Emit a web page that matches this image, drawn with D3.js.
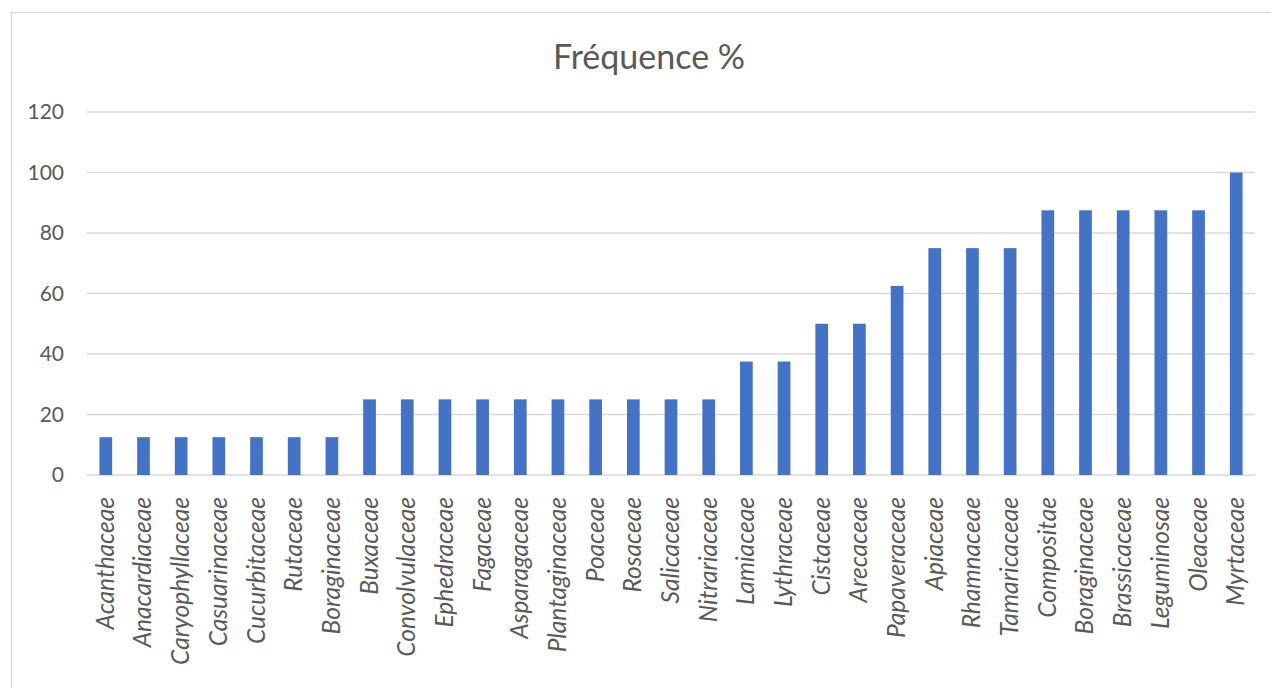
<!DOCTYPE html>
<html>
<head>
<meta charset="utf-8">
<script src="https://cdn.jsdelivr.net/npm/d3@7"></script>
<style>
  html, body { margin: 0; padding: 0; background: #fff; }
  svg { display: block; }
  text { font-family: Lato, "Open Sans", sans-serif; fill: #595959; }
</style>
</head>
<body>
<script>
// Plant families and their occurrence frequency (%)
const families = [
  "Acanthaceae", "Anacardiaceae", "Caryophyllaceae", "Casuarinaceae", "Cucurbitaceae",
  "Rutaceae", "Boraginaceae", "Buxaceae", "Convolvulaceae", "Ephedraceae",
  "Fagaceae", "Asparagaceae", "Plantaginaceae", "Poaceae", "Rosaceae",
  "Salicaceae", "Nitrariaceae", "Lamiaceae", "Lythraceae", "Cistaceae",
  "Arecaceae", "Papaveraceae", "Apiaceae", "Rhamnaceae", "Tamaricaceae",
  "Compositae", "Boraginaceae", "Brassicaceae", "Leguminosae", "Oleaceae",
  "Myrtaceae"
];
const frequency = [
  12.5, 12.5, 12.5, 12.5, 12.5,
  12.5, 12.5, 25, 25, 25,
  25, 25, 25, 25, 25,
  25, 25, 37.5, 37.5, 50,
  50, 62.5, 75, 75, 75,
  87.5, 87.5, 87.5, 87.5, 87.5,
  100
];
const yTicks = [0, 20, 40, 60, 80, 100, 120];
const title = "Fréquence %";

const W = 1271, H = 688;
const plot = { left: 87, right: 1255, top: 112, bottom: 475 };

const svg = d3.select("body").append("svg")
  .attr("width", W).attr("height", H);

// chart frame
svg.append("rect")
  .attr("x", 11.5).attr("y", 12.5)
  .attr("width", W + 10).attr("height", H + 10)
  .attr("fill", "#fff").attr("stroke", "#d9d9d9").attr("stroke-width", 1.5);

const idx = families.map((_, i) => i);
const x = d3.scaleBand().domain(idx).range([plot.left, plot.right]).paddingInner(0.663).paddingOuter(0.33);
const y = d3.scaleLinear().domain([0, 120]).range([plot.bottom, plot.top]);

// horizontal gridlines
svg.append("g").selectAll("line").data(yTicks).join("line")
  .attr("x1", plot.left).attr("x2", plot.right)
  .attr("y1", d => y(d)).attr("y2", d => y(d))
  .attr("stroke", "#d9d9d9").attr("stroke-width", 1.5);

// y axis labels
const yAxis = d3.axisLeft(y).tickValues(yTicks).tickSize(0).tickPadding(0);
svg.append("g")
  .attr("transform", `translate(${plot.left - 23},0)`)
  .call(yAxis)
  .call(g => g.select(".domain").remove())
  .selectAll("text")
  .attr("font-size", 21).attr("fill", "#595959")
  .style("font-family", "Lato, 'Open Sans', sans-serif");

// bars
svg.append("g").selectAll("rect").data(frequency).join("rect")
  .attr("x", (d, i) => x(i))
  .attr("width", x.bandwidth())
  .attr("y", d => y(d))
  .attr("height", d => y(0) - y(d))
  .attr("fill", "#4472C4");

// category labels, rotated and italic
const xAxis = d3.axisBottom(x).tickSize(0).tickFormat(i => families[i]);
svg.append("g")
  .attr("transform", `translate(0,${plot.bottom})`)
  .call(xAxis)
  .call(g => g.select(".domain").remove())
  .selectAll("text")
  .attr("font-size", 24.5)
  .attr("font-style", "italic")
  .attr("fill", "#595959")
  .style("font-family", "Lato, 'Open Sans', sans-serif")
  .attr("text-anchor", "end")
  .attr("dy", null)
  .attr("y", 0)
  .attr("transform", "translate(8,22) rotate(-90)");

// title
svg.append("text")
  .attr("x", 649).attr("y", 69)
  .attr("text-anchor", "middle")
  .attr("font-size", 34)
  .attr("fill", "#595959")
  .text(title);
</script>
</body>
</html>
